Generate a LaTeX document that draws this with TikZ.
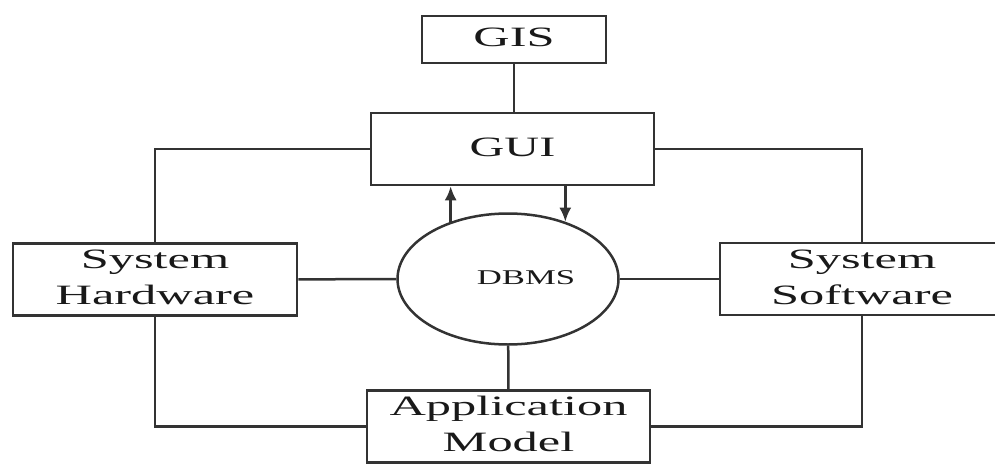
\documentclass[tikz,border=0pt]{standalone}
\usepackage{fontspec}
\setmainfont{Liberation Serif}
\usepackage{graphicx}
\usetikzlibrary{arrows.meta, shapes.geometric, calc}

\newcommand{\widetext}[2][1.8]{\scalebox{#1}[1]{\begin{tabular}{@{}c@{}}#2\end{tabular}}}

\begin{document}
\begin{tikzpicture}[x=1pt, y=-1pt, line width=2.5pt, black!80,
        box/.style={draw, inner sep=0pt, text=black!90, font=\fontsize{28}{36}\selectfont},
        flow/.style={-{Latex[length=14pt,width=12pt]}}]
        \useasboundingbox (0,0) rectangle (995,463);

        \node (gis) at (514, 39.5) [box,minimum width=184pt,minimum height=47pt] {\widetext{GIS}};
        \node (gui) at (512.5, 149) [box,minimum width=283pt,minimum height=72pt] {\widetext[1.72]{GUI}};
        \node (hw) at (155, 279.5) [box,minimum width=284pt,minimum height=71pt] {\widetext{System\\Hardware}};
        \node (sw) at (862, 279) [box,minimum width=284pt,minimum height=71pt] {\widetext{System\\Software}};
        \node (app) at (508.5, 426.5) [box,minimum width=283pt,minimum height=69pt] {\widetext{Application\\Model}};

        \node (dbms) at (508, 279) [ellipse,draw,inner sep=0pt,minimum width=221pt,minimum height=131pt,
            text=black!90,font=\fontsize{21}{25}\selectfont] {\hspace{36pt}\raisebox{4pt}{\widetext[1.65]{DBMS}}};

        \draw (gis) -- (gis |- gui.north);
        \draw (gui.west) -| (hw.north);
        \draw (gui.east) -| (sw.north);
        \draw (hw.south) |- (app.west);
        \draw (sw.south) |- (app.east);
        \draw (hw) -- (dbms);
        \draw (dbms) -- (sw);
        \draw (dbms) -- (app);
        \draw[flow] (dbms.135) -- (dbms.135 |- gui.south);
        \draw[flow] (dbms.45 |- gui.south) -- (dbms.45);
    \end{tikzpicture}
\end{document}
